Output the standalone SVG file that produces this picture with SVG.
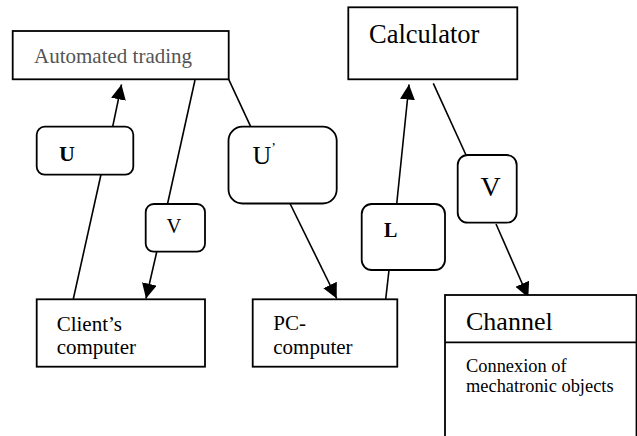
<svg xmlns="http://www.w3.org/2000/svg" width="637" height="436" viewBox="0 0 637 436">
<defs>
<style>
.box{fill:#fff;stroke:#000;stroke-width:1.8}
.ln{fill:none;stroke:#000;stroke-width:1.6}
text{font-family:'Liberation Serif','DejaVu Serif',serif;fill:#000}
</style>
<marker id="ah" markerUnits="userSpaceOnUse" markerWidth="16" markerHeight="16" refX="15" refY="7.5" orient="auto">
<path d="M0,0 L15,7.5 L0,15 z" fill="#000"/>
</marker>
</defs>
<rect width="637" height="436" fill="#fff"/>
<g id="connectors">
<line class="ln" x1="112.7" y1="126.7" x2="121.5" y2="84.5" marker-end="url(#ah)"/>
<line class="ln" x1="73.3" y1="299" x2="101" y2="174.5"/>
<line class="ln" x1="195" y1="80" x2="167.5" y2="204"/>
<line class="ln" x1="156.7" y1="252" x2="146" y2="298.5" marker-end="url(#ah)"/>
<line class="ln" x1="228.7" y1="79.3" x2="250.7" y2="126.7"/>
<line class="ln" x1="290" y1="203.5" x2="336.7" y2="298.5" marker-end="url(#ah)"/>
<line class="ln" x1="385.7" y1="299.3" x2="389" y2="270"/>
<line class="ln" x1="396.7" y1="204" x2="409" y2="84.5" marker-end="url(#ah)"/>
<line class="ln" x1="433.3" y1="83.3" x2="466" y2="155"/>
<line class="ln" x1="496" y1="224" x2="528.3" y2="297.5" marker-end="url(#ah)"/>
</g>
<g id="automated-trading">
<rect class="box" x="12.7" y="31" width="216" height="48.3"/>
<text x="34" y="62.5" font-family="Liberation Serif, serif" font-size="21" style="fill:#555">Automated trading</text>
</g>
<g id="calculator">
<rect class="box" x="348.3" y="7.3" width="169" height="72"/>
<text x="369" y="42.7" font-family="Liberation Serif, serif" font-size="26.5">Calculator</text>
</g>
<g id="u-label">
<rect class="box" x="36.7" y="126.7" width="96.6" height="48" rx="8"/>
<text x="59" y="161" font-family="Liberation Serif, serif" font-size="22" font-weight="bold">U</text>
</g>
<g id="u-prime-label">
<rect class="box" x="228.5" y="126.7" width="108.2" height="76.8" rx="14"/>
<text x="252.5" y="164" font-family="Liberation Serif, serif" font-size="26">U<tspan font-size="14" dy="-11">’</tspan></text>
</g>
<g id="v-small-label">
<rect class="box" x="145.7" y="204" width="59.3" height="47.7" rx="8"/>
<text x="166.5" y="233.3" font-family="Liberation Serif, serif" font-size="20.5">V</text>
</g>
<g id="l-label">
<rect class="box" x="361.7" y="204" width="83.3" height="66" rx="10"/>
<text x="384" y="237" font-family="Liberation Serif, serif" font-size="20" font-weight="bold">L</text>
</g>
<g id="v-big-label">
<rect class="box" x="457.7" y="155" width="59" height="67.7" rx="10"/>
<text x="480.5" y="196" font-family="Liberation Serif, serif" font-size="28">V</text>
</g>
<g id="clients-computer">
<rect class="box" x="36.7" y="299.3" width="168.3" height="67.4"/>
<text x="56.7" y="330.7" font-family="Liberation Serif, serif" font-size="21">Client’s</text>
<text x="56.7" y="354" font-family="Liberation Serif, serif" font-size="21">computer</text>
</g>
<g id="pc-computer">
<rect class="box" x="252.7" y="299.3" width="144.6" height="67.4"/>
<text x="273.3" y="330" font-family="Liberation Serif, serif" font-size="21">PC-</text>
<text x="273.3" y="354" font-family="Liberation Serif, serif" font-size="21">computer</text>
</g>
<g id="channel">
<rect class="box" x="445" y="295" width="191.5" height="160"/>
<line class="ln" x1="445" y1="342.3" x2="636.5" y2="342.3" style="stroke-width:1.8"/>
<text x="466" y="330" font-family="Liberation Serif, serif" font-size="26">Channel</text>
<text x="466" y="371.5" font-family="Liberation Serif, serif" font-size="18.4">Connexion of</text>
<text x="466" y="391.5" font-family="Liberation Serif, serif" font-size="18.4">mechatronic objects</text>
</g>
</svg>
